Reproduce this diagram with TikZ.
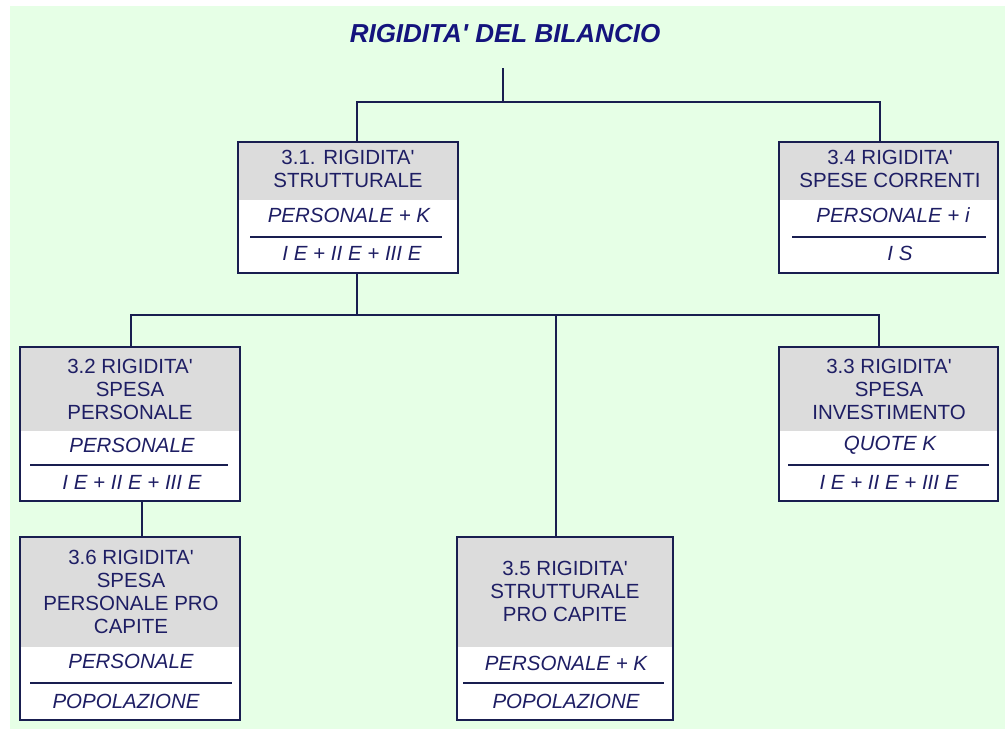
\documentclass[tikz,border=0pt]{standalone}
\usepackage{fontspec}
\newfontfamily\arial{Liberation Sans}[Ligatures=TeXOff]
\definecolor{bgc}{RGB}{230,255,230}
\definecolor{grayfill}{RGB}{220,220,220}
\definecolor{navy}{RGB}{25,30,80}
\definecolor{txt}{RGB}{30,30,100}
\definecolor{ttl}{RGB}{20,20,125}
\tikzset{
  frame/.style={draw=navy, line width=2pt, fill=white, inner sep=0pt,
    path picture={\fill[grayfill] (path picture bounding box.north west) rectangle ([yshift=-#1]path picture bounding box.north east);}},
  divline/.style={draw=navy, line width=1.8pt},
  conn/.style={draw=navy, line width=2pt},
  headtxt/.style={text=txt, font=\arial\fontsize{20.5}{23}\selectfont, align=center, inner sep=0pt},
  fractxt/.style={text=txt, font=\arial\itshape\fontsize{20.5}{23}\selectfont, inner sep=0pt},
  titletxt/.style={text=ttl, font=\arial\bfseries\itshape\fontsize{26}{30}\selectfont, inner sep=0pt}
}
\begin{document}
\begin{tikzpicture}[x=1pt,y=-1pt]
\useasboundingbox (0,0) rectangle (1005,729);
\fill[white] (0,0) rectangle (1005,729);
\fill[bgc] (10,6) rectangle (1005,729);

% title
\node[titletxt] (title) at (505,34) {RIGIDITA' DEL BILANCIO};

% boxes
\node[frame=58pt, minimum width=220pt, minimum height=131pt] (b31) at (348,207.5) {};
\node[frame=58pt, minimum width=219pt, minimum height=131pt] (b34) at (888.5,207.5) {};
\node[frame=84pt, minimum width=220pt, minimum height=154pt] (b32) at (130,424) {};
\node[frame=84pt, minimum width=219pt, minimum height=154pt] (b33) at (888.5,424) {};
\node[frame=110pt, minimum width=216pt, minimum height=183pt] (b35) at (565,628.5) {};
\node[frame=110pt, minimum width=220pt, minimum height=183pt] (b36) at (130,628.5) {};

% connectors
\coordinate (stem) at (503,68);
\coordinate (j1) at (503,102);
\coordinate (j2) at (357,315);
\draw[conn] (stem) -- (j1);
\draw[conn] (j1) -| ([xshift=9pt]b31.north);
\draw[conn] (j1) -| ([xshift=-8.5pt]b34.north);
\draw[conn] ([xshift=9pt]b31.south) -- (j2);
\draw[conn] (j2) -| ([xshift=1pt]b32.north);
\draw[conn] (j2) -| ([xshift=-9pt]b35.north);
\draw[conn] (j2) -| ([xshift=-9.5pt]b33.north);
\draw[conn] ([xshift=12pt]b32.south) -- ([xshift=12pt]b36.north);

% 3.1
\node[headtxt] (b31h) at (348,169) {3.1. RIGIDITA'\\STRUTTURALE};
\draw[divline] (250,237) -- (442,237);
\node[fractxt] (b31n) at (349,215) {PERSONALE + K};
\node[fractxt] (b31d) at (352,253) {I E + II E + III E};

% 3.4
\node[headtxt] (b34h) at (890,169) {3.4 RIGIDITA'\\SPESE CORRENTI};
\draw[divline] (792,237) -- (986,237);
\node[fractxt] (b34n) at (893,215) {PERSONALE + i};
\node[fractxt] (b34d) at (900,253) {I S};

% 3.2
\node[headtxt] (b32h) at (130,389.5) {3.2 RIGIDITA'\\SPESA\\PERSONALE};
\draw[divline] (30,465) -- (228,465);
\node[fractxt] (b32n) at (132,445) {PERSONALE};
\node[fractxt] (b32d) at (132,482) {I E + II E + III E};

% 3.3
\node[headtxt] (b33h) at (889,389.5) {3.3 RIGIDITA'\\SPESA\\INVESTIMENTO};
\draw[divline] (788,465) -- (989,465);
\node[fractxt] (b33n) at (890,445) {QUOTE K};
\node[fractxt] (b33d) at (889,482) {I E + II E + III E};

% 3.5
\node[headtxt] (b35h) at (565,591) {3.5 RIGIDITA'\\STRUTTURALE\\PRO CAPITE};
\draw[divline] (463,683) -- (664,683);
\node[fractxt] (b35n) at (566,663) {PERSONALE + K};
\node[fractxt] (b35d) at (566,701) {POPOLAZIONE};

% 3.6
\node[headtxt] (b36h) at (131,591.5) {3.6 RIGIDITA'\\SPESA\\PERSONALE PRO\\CAPITE};
\draw[divline] (30,683) -- (232,683);
\node[fractxt] (b36n) at (131,661) {PERSONALE};
\node[fractxt] (b36d) at (126,701) {POPOLAZIONE};
\end{tikzpicture}
\end{document}
